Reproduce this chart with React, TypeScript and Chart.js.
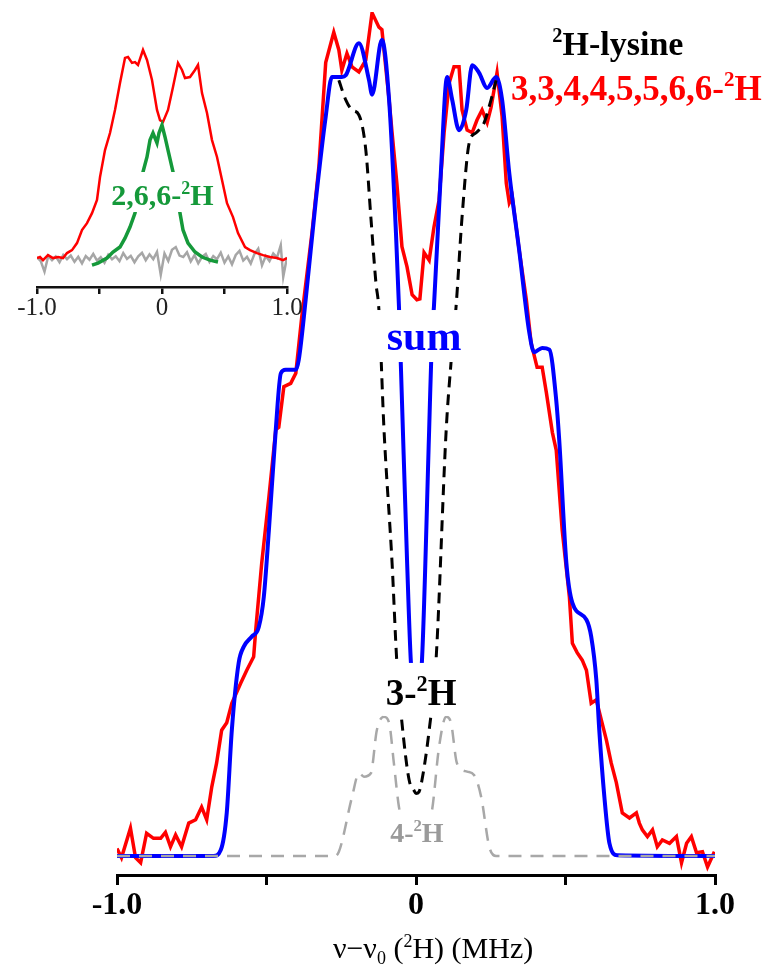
import React, { useEffect, useRef } from 'react';
import { Chart, registerables } from 'chart.js';

Chart.register(...registerables);

const FONT = "'Liberation Serif', 'Times New Roman', serif";

// ---------- main panel: experimental spectrum (MHz, a.u.) ----------
const expX = [-1.0,-0.985,-0.955,-0.938,-0.921,-0.901,-0.878,-0.854,-0.838,-0.821,
  -0.804,-0.784,-0.760,-0.737,-0.717,-0.700,-0.683,-0.667,-0.650,-0.633,
  -0.616,-0.586,-0.566,-0.543,-0.536,-0.516,-0.492,-0.469,-0.459,-0.442,
  -0.419,-0.402,-0.382,-0.348,-0.325,-0.302,-0.275,-0.258,-0.248,-0.231,
  -0.214,-0.191,-0.168,-0.147,-0.124,-0.114,-0.090,-0.080,-0.064,-0.047,
  -0.030,-0.013,0.003,0.013,0.027,0.044,0.060,0.077,0.094,0.111,
  0.127,0.144,0.154,0.171,0.188,0.204,0.221,0.238,0.251,0.271,
  0.288,0.302,0.312,0.322,0.345,0.369,0.385,0.405,0.422,0.436,
  0.456,0.469,0.489,0.513,0.523,0.539,0.556,0.570,0.586,0.603,
  0.620,0.637,0.653,0.670,0.690,0.714,0.737,0.747,0.757,0.774,
  0.791,0.807,0.824,0.848,0.871,0.888,0.905,0.921,0.938,0.958,
  0.975,0.998];
const expY = [0.9,-0.2,3.3,-0.2,-0.8,2.7,2.1,2.1,2.8,1.1,
  2.5,1.1,3.9,4.3,5.8,4.3,8.2,11.0,14.9,15.8,
  18.1,20.5,22.0,23.6,26.8,34.7,42.5,50.5,50.8,55.6,
  56.0,57.2,63.9,73.8,81.6,94.0,97.6,95.5,93.1,95.1,
  93.5,92.9,94.3,99.9,98.2,97.9,89.6,85.7,79.7,72.2,
  69.8,66.5,65.9,66.0,71.5,70.6,74.5,77.7,85.7,91.6,
  93.5,93.5,88.4,86.0,85.7,87.2,88.4,86.9,88.7,92.8,
  87.6,79.7,77.4,78.1,71.8,65.9,60.8,57.9,57.9,54.9,
  50.2,48.1,38.6,30.7,25.2,24.1,23.2,22.0,18.1,18.5,
  16.1,13.7,11.0,8.7,5.1,4.5,5.1,3.9,3.1,2.3,
  3.1,1.1,1.9,1.5,2.3,-0.8,1.5,2.3,0.4,0.5,
  -1.3,0.5];

// simulated sum
const sumX = [-1.0,-0.677,-0.653,-0.633,-0.616,-0.593,-0.576,-0.549,-0.526,-0.509,
  -0.492,-0.469,-0.452,-0.436,-0.402,-0.392,-0.369,-0.335,-0.302,-0.281,
  -0.248,-0.235,-0.191,-0.157,-0.147,-0.114,-0.090,-0.067,-0.057,-0.047,
  -0.030,-0.017,0.0,0.020,0.044,0.054,0.060,0.084,0.104,0.121,
  0.144,0.168,0.188,0.211,0.238,0.268,0.288,0.312,0.345,0.379,
  0.395,0.422,0.446,0.469,0.479,0.503,0.523,0.570,0.586,0.603,
  0.613,0.630,0.647,0.673,1.0];
const sumY = [0,0,0.7,5.1,14.9,22.9,24.8,26.0,27.1,30.7,
  38.6,50.5,57.2,57.6,57.6,58.8,65.9,77.7,87.6,92.3,
  92.3,92.5,96.3,91.9,90.2,96.7,89.6,73.8,65.1,54.0,
  35.1,22.9,18.0,23.2,50.5,62.3,65.1,81.6,92.3,89.6,
  86.0,88.4,93.7,92.8,91.0,92.3,89.6,80.9,71.8,62.0,
  59.7,60.2,60.0,54.0,49.3,34.7,30.0,28.0,26.0,20.9,
  14.9,7.0,1.5,0.1,0];

// 3-2H component (dashed black)
const h3X = [-0.258,-0.235,-0.214,-0.191,-0.168,-0.151,-0.134,-0.124,-0.107,-0.080,
  -0.064,-0.047,-0.023,-0.007,0.0,0.010,0.020,0.044,0.067,0.101,
  0.117,0.134,0.154,0.178,0.201,0.228,0.251,0.268];
const h3Y = [91.9,89.6,88.4,87.8,83.7,75.7,67.9,64.7,50.5,34.7,
  22.9,15.8,9.0,7.8,7.4,7.6,9.0,14.9,23.2,50.5,
  58.4,65.1,75.7,84.5,85.7,86.9,89.6,91.9];

// 4-2H component (dashed gray)
const h4X = [-1.0,-0.275,-0.258,-0.214,-0.191,-0.174,-0.151,-0.131,-0.107,-0.090,
  -0.074,-0.057,-0.030,0.0,0.030,0.054,0.077,0.101,0.117,0.137,
  0.171,0.194,0.218,0.245,0.268,1.0];
const h4Y = [0,0,0.5,7.0,9.8,9.4,9.8,14.9,16.5,15.8,
  11.0,5.8,2.5,1.9,2.5,5.5,12.9,16.5,15.8,11.0,
  10.0,9.6,7.0,1.1,0,0];

const xTickLabels = ['-1.0', '', '0', '', '1.0'];

// ---------- inset ----------
const insRedX = [-1.0,-0.976,-0.952,-0.912,-0.872,-0.832,-0.792,-0.760,-0.720,-0.680,
  -0.640,-0.600,-0.560,-0.520,-0.496,-0.456,-0.416,-0.376,-0.336,-0.296,
  -0.272,-0.240,-0.216,-0.192,-0.152,-0.120,-0.080,-0.040,-0.016,0.008,
  0.048,0.088,0.128,0.160,0.184,0.224,0.264,0.288,0.320,0.360,
  0.400,0.440,0.480,0.520,0.568,0.608,0.664,0.704,0.760,0.808,
  0.864,0.920,0.968,1.0];
const insRedY = [0,0.5,-1.0,1.4,0,0.5,0,2.4,3.8,7.2,
  13.5,16.8,21.6,27.9,38.9,51.9,60.1,71.2,84.1,96.2,
  96.6,93.8,94.2,92.8,100.0,95.2,85.6,71.2,66.3,65.4,
  71.2,82.2,93.8,90.4,86.5,87.0,90.4,92.8,79.3,69.7,
  56.7,48.6,37.5,26.4,19.7,12.0,5.3,3.8,2.4,1.4,
  0.5,0,-1.0,0];

const insGreenX = [-0.560,-0.512,-0.440,-0.392,-0.336,-0.296,-0.256,-0.216,-0.152,-0.120,
  -0.096,-0.072,-0.040,-0.024,0.0,0.024,0.048,0.088,0.144,0.168,
  0.208,0.264,0.320,0.384,0.448];
const insGreenY = [-3.4,-2.4,0,2.9,5.3,9.6,14.9,21.6,41.4,48.6,
  56.7,60.1,55.3,60.1,63.9,58.2,51.9,41.4,21.6,13.5,
  7.2,2.9,0.5,-1.0,-1.9];

const insGrayX = [-1.0,-0.97,-0.94,-0.91,-0.88,-0.85,-0.82,-0.79,-0.76,-0.73,
  -0.70,-0.67,-0.64,-0.61,-0.58,-0.55,-0.52,-0.49,-0.46,-0.43,
  -0.40,-0.37,-0.34,-0.31,-0.28,-0.25,-0.22,-0.19,-0.16,-0.13,
  -0.10,-0.07,-0.04,-0.01,0.02,0.05,0.08,0.11,0.14,0.17,
  0.20,0.23,0.26,0.29,0.32,0.35,0.38,0.41,0.44,0.47,
  0.50,0.53,0.56,0.59,0.62,0.65,0.68,0.71,0.74,0.77,
  0.80,0.83,0.86,0.89,0.92,0.95,0.97,1.0];
const insGrayY = [0.5,-1.5,-6.5,1.0,-1.0,0.8,-2.0,1.5,-0.5,1.2,
  -1.8,0.6,-2.5,1.0,-0.8,2.0,-1.2,0.4,-2.2,1.6,
  -0.6,0.9,-1.5,2.4,-0.4,1.1,-2.0,0.8,2.5,-1.0,
  1.8,-0.5,3.0,-8.0,2.2,-1.4,4.0,5.3,1.2,0.5,
  2.8,-1.6,1.4,-2.5,0.6,2.0,-1.8,1.0,-0.5,2.6,
  -2.2,0.8,-3.0,1.5,3.5,-1.2,0.6,-2.6,2.0,4.5,
  -3.5,1.0,-1.5,2.2,0.2,6.2,-9.0,0.5];

const insetTickLabels = ['-1.0', '', '0', '', '1.0'];

// ---------- text helpers ----------
type Seg = { t: string; sup?: boolean; sub?: boolean };
interface Note {
  segs: Seg[]; x: number; y: number; size: number; color: string;
  align: 'left' | 'center'; weight?: string;
  bg?: { top: number; bottom: number; padX: number };
}

const mainNotes: Note[] = [
  { segs: [{ t: '2', sup: true }, { t: 'H-lysine' }], x: 0.456, y: 94.9, size: 34, color: '#000', align: 'left' },
  { segs: [{ t: '3,3,4,4,5,5,6,6-' }, { t: '2', sup: true }, { t: 'H' }], x: 0.318, y: 89.6, size: 35, color: '#ff0000', align: 'left' },
  { segs: [{ t: 'sum' }], x: 0.027, y: 59.95, size: 42, color: '#0000ff', align: 'center', bg: { top: 40, bottom: 12, padX: 10 } },
  { segs: [{ t: '3-' }, { t: '2', sup: true }, { t: 'H' }], x: 0.017, y: 17.9, size: 37, color: '#000', align: 'center', bg: { top: 42, bottom: 11, padX: 3 } },
  { segs: [{ t: '4-' }, { t: '2', sup: true }, { t: 'H' }], x: 0.003, y: 1.66, size: 28, color: '#9a9a9a', align: 'center', bg: { top: 30, bottom: 8, padX: 3 } },
];

const insetNotes: Note[] = [
  { segs: [{ t: '2,6,6-' }, { t: '2', sup: true }, { t: 'H' }], x: 0.004, y: 25.5, size: 30, color: '#15993a', align: 'center', bg: { top: 33, bottom: 7, padX: 4 } },
];

const titleSegs: Seg[] = [{ t: 'ν−ν' }, { t: '0', sub: true }, { t: ' (' }, { t: '2', sup: true }, { t: 'H) (MHz)' }];

function segFont(s: Seg, size: number, weight: string) {
  const sz = s.sup || s.sub ? size * 0.6 : size;
  return `${weight} ${sz}px ${FONT}`;
}

function drawRich(ctx: CanvasRenderingContext2D, segs: Seg[], x: number, y: number, size: number,
  color: string, align: 'left' | 'center', weight: string, bg?: { top: number; bottom: number; padX: number }) {
  const widths = segs.map((s) => { ctx.font = segFont(s, size, weight); return ctx.measureText(s.t).width; });
  const total = widths.reduce((a, b) => a + b, 0);
  let cx = align === 'center' ? x - total / 2 : x;
  if (bg) {
    ctx.fillStyle = '#ffffff';
    ctx.fillRect(cx - bg.padX, y - bg.top, total + 2 * bg.padX, bg.top + bg.bottom);
  }
  ctx.textAlign = 'left';
  ctx.textBaseline = 'alphabetic';
  ctx.fillStyle = color;
  segs.forEach((s, i) => {
    ctx.font = segFont(s, size, weight);
    const dy = s.sup ? -size * 0.38 : s.sub ? size * 0.2 : 0;
    ctx.fillText(s.t, cx, y + dy);
    cx += widths[i];
  });
}

function notesPlugin(notes: Note[], withTitle: boolean) {
  return {
    id: 'notes',
    afterDatasetsDraw(chart: any) {
      const ctx: CanvasRenderingContext2D = chart.ctx;
      const xs = chart.scales.x;
      const ys = chart.scales.y;
      ctx.save();
      notes.forEach((n) => {
        drawRich(ctx, n.segs, xs.getPixelForValue(n.x), ys.getPixelForValue(n.y), n.size, n.color, n.align, n.weight || 'bold', n.bg);
      });
      ctx.restore();
    },
    afterDraw(chart: any) {
      if (!withTitle) return;
      const ctx: CanvasRenderingContext2D = chart.ctx;
      const xs = chart.scales.x;
      ctx.save();
      drawRich(ctx, titleSegs, xs.getPixelForValue(0.057), xs.bottom - 7, 30, '#000', 'center', 'normal');
      ctx.restore();
    },
  };
}

const pts = (xs: number[], ys: number[]) => {
  const n = Math.min(xs.length, ys.length);
  const out: { x: number; y: number }[] = [];
  for (let i = 0; i < n; i++) out.push({ x: xs[i], y: ys[i] });
  return out;
};

export default function App() {
  const mainRef = useRef<HTMLCanvasElement>(null);
  const insetRef = useRef<HTMLCanvasElement>(null);

  useEffect(() => {
    document.body.style.margin = '0';
    const main = new Chart(mainRef.current as HTMLCanvasElement, {
      type: 'line',
      data: {
        datasets: [
          { label: '4-2H', data: pts(h4X, h4Y), borderColor: '#a8a8a8', borderWidth: 2.5, borderDash: [13, 9], pointRadius: 0, cubicInterpolationMode: 'monotone', fill: false },
          { label: '3-2H', data: pts(h3X, h3Y), borderColor: '#000000', borderWidth: 3, borderDash: [11, 7], pointRadius: 0, cubicInterpolationMode: 'monotone', fill: false },
          { label: 'sum', data: pts(sumX, sumY), borderColor: '#0000ff', borderWidth: 4, pointRadius: 0, cubicInterpolationMode: 'monotone', fill: false },
          { label: 'experiment', data: pts(expX, expY), borderColor: '#ff0000', borderWidth: 3.5, pointRadius: 0, tension: 0, fill: false },
        ],
      } as any,
      options: {
        responsive: false,
        animation: false,
        events: [],
        plugins: { legend: { display: false }, tooltip: { enabled: false } },
        layout: { padding: { left: 117, right: 62, top: 12, bottom: 0 } },
        scales: {
          x: {
            type: 'linear', min: -1, max: 1, position: 'bottom',
            afterFit: (s: any) => { s.height = 90; },
            border: { display: true, color: '#000', width: 3 },
            grid: { drawOnChartArea: false, drawTicks: true, tickLength: 10, lineWidth: 3, color: '#000' },
            ticks: {
              stepSize: 0.5, autoSkip: false, maxRotation: 0, padding: 5, color: '#000',
              font: { family: FONT, size: 32, weight: 'bold', lineHeight: 1 },
              callback: (_v: any, i: number) => xTickLabels[i] ?? '',
            },
          },
          y: { display: false, min: -2.25, max: 100 },
        },
      } as any,
      plugins: [notesPlugin(mainNotes, true)],
    });

    const inset = new Chart(insetRef.current as HTMLCanvasElement, {
      type: 'line',
      data: {
        datasets: [
          { label: '2,6,6-2H', data: pts(insGreenX, insGreenY), borderColor: '#15993a', borderWidth: 3.5, pointRadius: 0, tension: 0, fill: false },
          { label: 'lysine', data: pts(insRedX, insRedY), borderColor: '#ff0000', borderWidth: 2.5, pointRadius: 0, tension: 0, fill: false },
          { label: 'background', data: pts(insGrayX, insGrayY), borderColor: '#a6a6a6', borderWidth: 2.5, pointRadius: 0, tension: 0, fill: false },
        ],
      } as any,
      options: {
        responsive: false,
        animation: false,
        events: [],
        plugins: { legend: { display: false }, tooltip: { enabled: false } },
        layout: { padding: { left: 37, right: 33, top: 40, bottom: 0 } },
        scales: {
          x: {
            type: 'linear', min: -1, max: 1, position: 'bottom',
            afterFit: (s: any) => { s.height = 43; },
            border: { display: true, color: '#111', width: 2.5 },
            grid: { drawOnChartArea: false, drawTicks: true, tickLength: 7, lineWidth: 2.5, color: '#111' },
            ticks: {
              stepSize: 0.5, autoSkip: false, maxRotation: 0, padding: 2, color: '#222',
              font: { family: FONT, size: 25, weight: 'normal', lineHeight: 1 },
              callback: (_v: any, i: number) => insetTickLabels[i] ?? '',
            },
          },
          y: { display: false, min: -13.9, max: 104.8 },
        },
      } as any,
      plugins: [notesPlugin(insetNotes, false)],
    });

    return () => { main.destroy(); inset.destroy(); };
  }, []);

  return (
    <div style={{ position: 'relative', width: 777, height: 965, background: '#ffffff', overflow: 'hidden' }}>
      <canvas ref={mainRef} width={777} height={965} style={{ position: 'absolute', left: 0, top: 0 }} />
      <canvas ref={insetRef} width={320} height={330} style={{ position: 'absolute', left: 0, top: 0 }} />
    </div>
  );
}
